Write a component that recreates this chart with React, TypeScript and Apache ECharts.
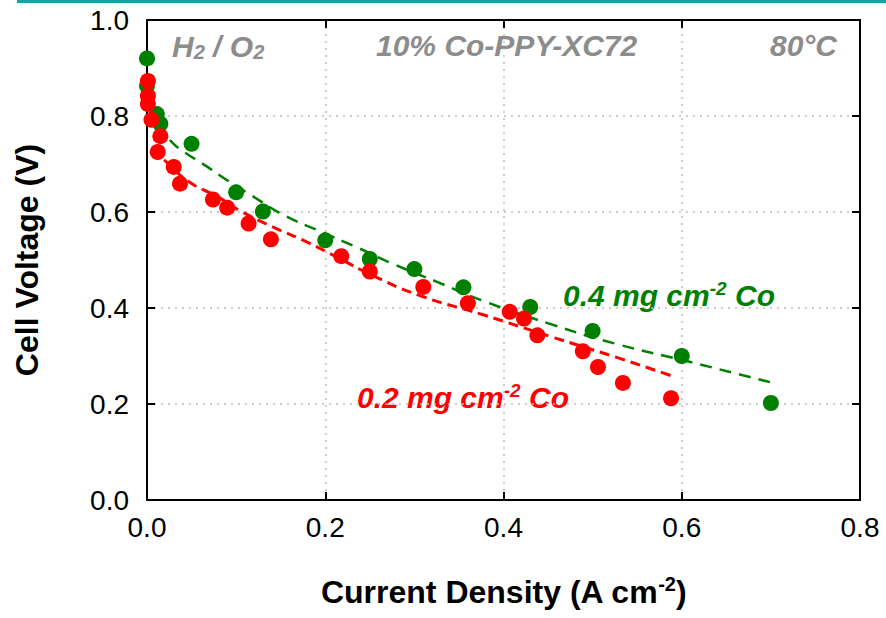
import React, { useEffect, useRef } from "react";
import * as echarts from "echarts";

// Measured points (current density A/cm2, cell voltage V)
const greenX = [0, 0, 0.011, 0.015, 0.05, 0.1, 0.13, 0.2, 0.25, 0.3, 0.355, 0.43, 0.5, 0.6, 0.7];
const greenY = [0.92, 0.863, 0.804, 0.784, 0.742, 0.641, 0.601, 0.541, 0.502, 0.481, 0.443, 0.402, 0.352, 0.3, 0.202];

const redX = [0.001, 0.001, 0.001, 0.005, 0.015, 0.012, 0.03, 0.037, 0.074, 0.09, 0.114, 0.139, 0.218, 0.25, 0.31, 0.36, 0.407, 0.423, 0.438, 0.489, 0.506, 0.534, 0.588];
const redY = [0.873, 0.842, 0.825, 0.792, 0.758, 0.725, 0.694, 0.659, 0.626, 0.609, 0.576, 0.543, 0.508, 0.476, 0.444, 0.41, 0.392, 0.378, 0.343, 0.31, 0.277, 0.244, 0.212];

// Dashed fit curves
const greenFitX = [0.01, 0.026, 0.037, 0.067, 0.09, 0.116, 0.153, 0.194, 0.236, 0.276, 0.326, 0.377, 0.452, 0.527, 0.602, 0.7];
const greenFitY = [0.78, 0.749, 0.731, 0.695, 0.666, 0.636, 0.594, 0.56, 0.526, 0.492, 0.454, 0.415, 0.367, 0.325, 0.291, 0.245];

const redFitX = [0.008, 0.018, 0.048, 0.079, 0.104, 0.141, 0.18, 0.217, 0.254, 0.306, 0.377, 0.452, 0.527, 0.588];
const redFitY = [0.735, 0.711, 0.662, 0.632, 0.603, 0.569, 0.537, 0.502, 0.467, 0.426, 0.386, 0.341, 0.297, 0.259];

const xTicks = [0, 0.2, 0.4, 0.6, 0.8];
const yTicks = [0, 0.2, 0.4, 0.6, 0.8, 1.0];

const zip = (a: number[], b: number[]) => a.map((v, i) => [v, b[i]]);

export default function App() {
  const ref = useRef<HTMLDivElement>(null);
  useEffect(() => {
    if (!ref.current) return;
    const chart = echarts.init(ref.current, null, { renderer: "svg" });
    const font = "Liberation Sans, Arial, sans-serif";
    const axisCommon = {
      type: "value" as const,
      axisLine: { show: true, onZero: false, lineStyle: { color: "#000", width: 2 } },
      axisTick: { show: true, inside: true, length: 8, lineStyle: { color: "#000", width: 2 } },
    };
    const gridLine = { show: true, lineStyle: { color: "#bdbdbd", type: [2, 5] as any, width: 1.5 } };
    const supStyle = (c: string) => ({
      fontSize: 19, fontWeight: "bold", fontStyle: "italic", color: c, fontFamily: font,
      verticalAlign: "top", padding: [0, 0, 14, 0],
    });
    chart.setOption({
      animation: false,
      backgroundColor: "#fff",
      grid: { left: 147, top: 20, width: 713, height: 480, containLabel: false, outerBoundsMode: "none" },
      xAxis: [
        {
          ...axisCommon,
          position: "bottom",
          min: xTicks[0],
          max: xTicks[xTicks.length - 1],
          interval: 0.2,
          splitLine: gridLine,
          axisLabel: { formatter: (v: number) => v.toFixed(1), fontSize: 28, color: "#000", fontFamily: font, margin: 13 },
          name: "Current Density (A cm{s|-2})",
          nameLocation: "middle",
          nameGap: 74,
          nameTextStyle: {
            fontSize: 32, fontWeight: "bold", color: "#000", fontFamily: font,
            rich: { s: { fontSize: 20, fontWeight: "bold", color: "#000", fontFamily: font, verticalAlign: "top", padding: [0, 0, 16, 0] } },
          },
        },
        {
          ...axisCommon,
          position: "top",
          min: xTicks[0],
          max: xTicks[xTicks.length - 1],
          interval: 0.2,
          splitLine: { show: false },
          axisLabel: { show: false },
        },
      ],
      yAxis: [
        {
          ...axisCommon,
          position: "left",
          min: yTicks[0],
          max: yTicks[yTicks.length - 1],
          interval: 0.2,
          splitLine: gridLine,
          axisLabel: { formatter: (v: number) => v.toFixed(1), fontSize: 28, color: "#000", fontFamily: font, margin: 18 },
          name: "Cell Voltage (V)",
          nameLocation: "middle",
          nameGap: 104,
          nameTextStyle: { fontSize: 32, fontWeight: "bold", color: "#000", fontFamily: font },
        },
        {
          ...axisCommon,
          position: "right",
          min: yTicks[0],
          max: yTicks[yTicks.length - 1],
          interval: 0.2,
          splitLine: { show: false },
          axisLabel: { show: false },
        },
      ],
      series: [
        {
          type: "line",
          data: zip(greenFitX, greenFitY),
          smooth: true,
          showSymbol: false,
          symbol: "none",
          lineStyle: { color: "#008000", width: 2.5, type: [12, 8] },
          z: 2,
        },
        {
          type: "line",
          data: zip(redFitX, redFitY),
          smooth: true,
          showSymbol: false,
          symbol: "none",
          lineStyle: { color: "#ff0000", width: 3, type: [10, 6] },
          z: 2,
        },
        {
          type: "scatter",
          data: zip(greenX, greenY),
          symbol: "circle",
          symbolSize: 16,
          itemStyle: { color: "#008000", opacity: 1 },
          z: 3,
        },
        {
          type: "scatter",
          data: zip(redX, redY),
          symbol: "circle",
          symbolSize: 16,
          itemStyle: { color: "#ff0000", opacity: 1 },
          z: 4,
        },
      ],
      graphic: [
        { type: "rect", shape: { x: 17, y: 0, width: 869, height: 3 }, style: { fill: "#17a3a3" } },
        {
          type: "text", x: 172, y: 30,
          style: {
            text: "H{s|2} / O{s|2}",
            font: `italic bold 30px ${font}`, fill: "#8c8c8c",
            rich: { s: { fontSize: 20, fontWeight: "bold", fontStyle: "italic", color: "#8c8c8c", fontFamily: font, verticalAlign: "bottom", padding: [12, 0, 0, 0] } },
          },
        },
        { type: "text", x: 376, y: 30, style: { text: "10% Co-PPY-XC72", font: `italic bold 30px ${font}`, fill: "#8c8c8c" } },
        { type: "text", x: 770, y: 30, style: { text: "80°C", font: `italic bold 30px ${font}`, fill: "#8c8c8c" } },
        {
          type: "text", x: 563, y: 279,
          style: {
            text: "0.4 mg cm{s|-2} Co",
            font: `italic bold 30px ${font}`, fill: "#008000",
            rich: { s: supStyle("#008000") },
          },
        },
        {
          type: "text", x: 357, y: 381,
          style: {
            text: "0.2 mg cm{s|-2} Co",
            font: `italic bold 30px ${font}`, fill: "#ff0000",
            rich: { s: supStyle("#ff0000") },
          },
        },
      ],
    });
    return () => chart.dispose();
  }, []);
  return <div ref={ref} style={{ position: "fixed", left: 0, top: 0, width: 886, height: 618 }} />;
}
